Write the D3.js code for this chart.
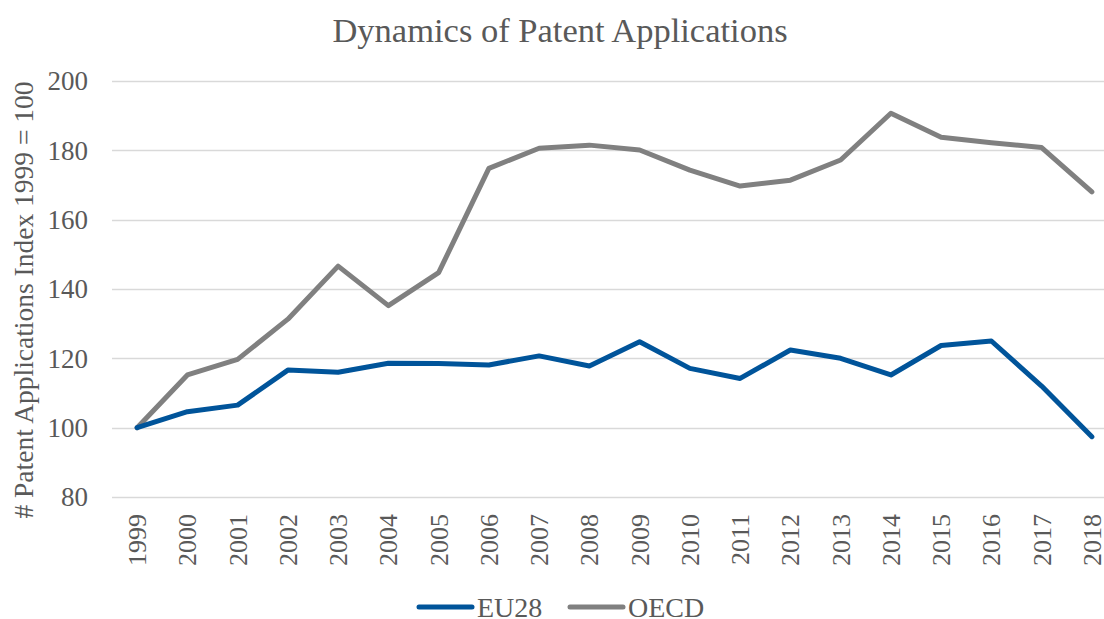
<!DOCTYPE html>
<html lang="en">
<head>
<meta charset="UTF-8">
<title>Dynamics of Patent Applications</title>
<script src="https://cdn.jsdelivr.net/npm/d3@7"></script>
<style>
    body { margin: 0; background: #fff; }
    svg { display: block; font-family: "Liberation Serif", "Times New Roman", serif; }
</style>
</head>
<body>
<div id="chart"></div>
<script>
    // data
    var years = ['1999','2000','2001','2002','2003','2004','2005','2006','2007','2008',
                 '2009','2010','2011','2012','2013','2014','2015','2016','2017','2018'];
    var eu28 = [100, 104.6, 106.5, 116.6, 116.0, 118.6, 118.5, 118.1, 120.7, 117.8,
                124.8, 117.1, 114.2, 122.4, 120.0, 115.2, 123.7, 125.0, 112.0, 97.4];
    var oecd = [100, 115.2, 119.7, 131.3, 146.6, 135.2, 144.7, 174.8, 180.6, 181.5,
                180.1, 174.3, 169.7, 171.4, 177.2, 190.7, 183.8, 182.2, 180.8, 168.0];
    var yTicks = [80, 100, 120, 140, 160, 180, 200];

    var width = 1104, height = 619;
    var plotLeft = 112, plotRight = 1117, plotTop = 81, plotBottom = 497;

    var svg = d3.select('#chart').append('svg')
        .attr('width', width)
        .attr('height', height);

    var x = d3.scalePoint().domain(years).range([plotLeft, plotRight]).padding(0.5);
    var y = d3.scaleLinear().domain([80, 200]).range([plotBottom, plotTop]);

    // gridlines
    svg.append('g')
        .selectAll('line')
        .data(yTicks)
        .join('line')
        .attr('x1', plotLeft)
        .attr('x2', width)
        .attr('y1', d => Math.round(y(d)) + 0.5)
        .attr('y2', d => Math.round(y(d)) + 0.5)
        .attr('stroke', '#d9d9d9')
        .attr('stroke-width', 1.3);

    // y tick labels
    svg.append('g')
        .selectAll('text')
        .data(yTicks)
        .join('text')
        .attr('x', 88)
        .attr('y', d => y(d))
        .attr('dy', '0.35em')
        .attr('text-anchor', 'end')
        .attr('fill', '#595959')
        .attr('font-size', 27)
        .text(d => d);

    // x tick labels (rotated)
    svg.append('g')
        .selectAll('text')
        .data(years)
        .join('text')
        .attr('transform', d => 'translate(' + x(d) + ',514) rotate(-90)')
        .attr('dy', '0.35em')
        .attr('text-anchor', 'end')
        .attr('fill', '#595959')
        .attr('font-size', 26)
        .text(d => d);

    // title
    svg.append('text')
        .attr('x', 560)
        .attr('y', 42)
        .attr('text-anchor', 'middle')
        .attr('fill', '#595959')
        .attr('font-size', 34.5)
        .text('Dynamics of Patent Applications');

    // y axis title
    svg.append('text')
        .attr('transform', 'translate(33,300) rotate(-90)')
        .attr('text-anchor', 'middle')
        .attr('fill', '#595959')
        .attr('font-size', 27.5)
        .text('# Patent Applications Index 1999 = 100');

    var series = [
        { name: 'EU28', values: eu28, color: '#00549a' },
        { name: 'OECD', values: oecd, color: '#808080' }
    ];

    var line = d3.line()
        .x((d, i) => x(years[i]))
        .y(d => y(d));

    // OECD first so EU28 sits on top where they meet
    svg.append('g')
        .selectAll('path')
        .data(series.slice().reverse())
        .join('path')
        .attr('d', d => line(d.values))
        .attr('fill', 'none')
        .attr('stroke', d => d.color)
        .attr('stroke-width', 5)
        .attr('stroke-linejoin', 'round')
        .attr('stroke-linecap', 'round');

    // legend
    var legendX = [419, 570];
    var legend = svg.append('g')
        .selectAll('g')
        .data(series)
        .join('g')
        .attr('transform', (d, i) => 'translate(' + legendX[i] + ',607)');

    legend.append('line')
        .attr('x1', 0)
        .attr('x2', 53)
        .attr('stroke', d => d.color)
        .attr('stroke-width', 5)
        .attr('stroke-linecap', 'round');

    legend.append('text')
        .attr('x', 58)
        .attr('dy', '0.35em')
        .attr('fill', '#595959')
        .attr('font-size', 28)
        .text(d => d.name);
</script>
</body>
</html>
